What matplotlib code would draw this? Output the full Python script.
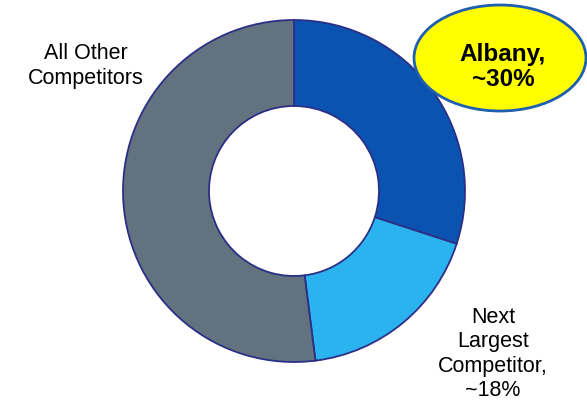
import matplotlib
matplotlib.use("Agg")
import matplotlib.pyplot as plt
from matplotlib.patches import Ellipse

# ── Data ──────────────────────────────────────────────────────────────────────
labels = ["Albany", "Next Largest Competitor", "All Other Competitors"]
shares = [30, 18, 52]
colors = ["#0b53b0", "#2bb3f0", "#62727f"]

W, H = 587, 406

fig = plt.figure(figsize=(W / 100, H / 100), dpi=100)
ax = fig.add_axes([0, 0, 1, 1])

# donut, clockwise from 12 o'clock
ax.pie(
    shares, colors=colors, startangle=90, counterclock=False,
    center=(294, H - 192), radius=171, frame=True,
    wedgeprops=dict(width=86, edgecolor="#2b2f86", linewidth=1.3),
)
ax.set_xlim(0, W)
ax.set_ylim(0, H)
ax.set_aspect("equal")
ax.axis("off")

font = dict(family=["Liberation Sans", "DejaVu Sans"], fontsize=15.5,
            ha="center", va="center", linespacing=1.2)

# callout for Albany
ax.add_patch(Ellipse((500, H - 59), 172, 106, facecolor="#ffff00",
                     edgecolor="#1f5fb0", linewidth=2, zorder=3))
ax.text(503, H - 67, "Albany,\n~30%", fontweight="bold", zorder=4,
        **{**font, "fontsize": 17.5, "linespacing": 1.15})

ax.text(86, H - 66, "All Other\nCompetitors", **font)
ax.text(493, H - 354, "Next\nLargest\nCompetitor,\n~18%", **font)

fig.savefig("out.png", dpi=100)
